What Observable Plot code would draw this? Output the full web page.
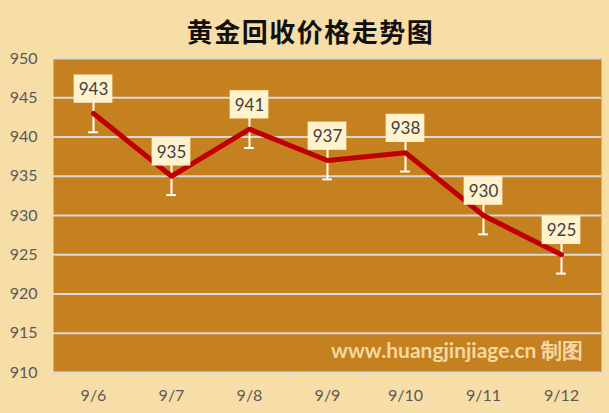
<!DOCTYPE html>
<html><head><meta charset="utf-8">
<script src="https://cdn.jsdelivr.net/npm/d3@7"></script>
<script src="https://cdn.jsdelivr.net/npm/@observablehq/plot@0.6"></script>
<style>
html,body{margin:0;padding:0;background:#F7DEA7;}
#wrap{position:relative;width:609px;height:413px;overflow:hidden;}
#title{position:absolute;left:0;top:14px;width:609px;text-align:center;font-family:"Noto Sans CJK SC";font-weight:bold;font-size:26px;line-height:34px;color:#111;letter-spacing:1.5px;padding-left:12px;box-sizing:border-box;}
</style></head>
<body><div id="wrap"><div id="title">黄金回收价格走势图</div><div id="chart"></div></div>
<script>
const dates = ["9/6","9/7","9/8","9/9","9/10","9/11","9/12"];
const prices = [943, 935, 941, 937, 938, 930, 925];
const errors = [2.4, 2.4, 2.4, 2.4, 2.4, 2.4, 2.4];
const yTicks = [910, 915, 920, 925, 930, 935, 940, 945, 950];
const watermark = "www.huangjinjiage.cn 制图";

const data = dates.map((d, i) => ({date: d, price: prices[i], err: errors[i]}));
const W = 609, H = 413, mL = 53, mR = 8, mT = 58, mB = 41;
const bw = (W - mL - mR) / dates.length;

const chart = Plot.plot({
  width: W, height: H,
  marginLeft: mL, marginRight: mR, marginTop: mT, marginBottom: mB,
  style: {background: "transparent", fontFamily: "Lato", color: "#595959"},
  x: {type: "band", domain: dates, padding: 0},
  y: {domain: [910, 950]},
  marks: [
    Plot.frame({fill: "#C58020", stroke: null}),
    Plot.ruleY(yTicks, {stroke: "#D9D9D9", strokeWidth: 2}),
    Plot.ruleX(dates, {x: d => d, y1: 910, y2: 910, insetBottom: -6, dx: -bw/2, stroke: "#D9D9D9", strokeWidth: 2}),
    Plot.ruleX(dates.slice(-1), {x: d => d, y1: 910, y2: 910, insetBottom: -6, dx: bw/2 - 1, stroke: "#D9D9D9", strokeWidth: 2}),
    Plot.axisY({ticks: yTicks, tickSize: 0, tickPadding: 16, fontSize: 16, label: null}),
    Plot.axisX({tickSize: 0, tickPadding: 17, fontSize: 16, label: null}),
    Plot.ruleX(data, {x: "date", y1: d => d.price - d.err, y2: d => d.price + d.err, stroke: "white", strokeWidth: 2}),
    Plot.tickY(data, {x: "date", y: d => d.price - d.err, stroke: "white", strokeWidth: 2, insetLeft: (bw - 10)/2, insetRight: (bw - 10)/2}),
    Plot.line(data, {x: "date", y: "price", stroke: "#C00000", strokeWidth: 5, strokeLinejoin: "round", strokeLinecap: "round"}),
    Plot.barY(data, {x: "date", y1: d => d.price + 1.3, y2: d => d.price + 4.9, fill: "#FFF2CC", insetLeft: (bw - 39)/2, insetRight: (bw - 39)/2}),
    Plot.text(data, {x: "date", y: "price", text: d => String(d.price), dy: -24, fontSize: 17, fill: "#404040"}),
    Plot.text([watermark], {frameAnchor: "bottom-right", text: d => d, dx: -18, dy: -15, textAnchor: "end", fontSize: 21, fontWeight: "bold", fill: "#F5D9A0", fontFamily: "Lato"})
  ]
});
document.getElementById("chart").appendChild(chart);
</script></body></html>
